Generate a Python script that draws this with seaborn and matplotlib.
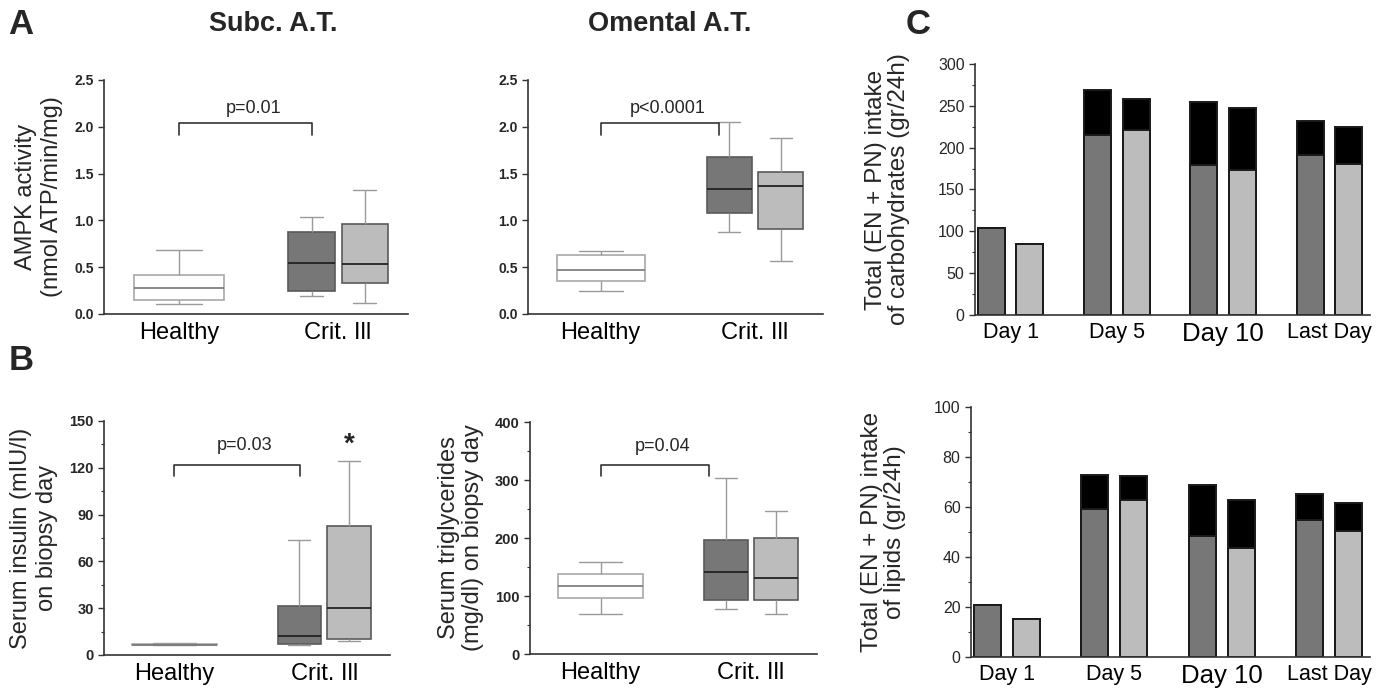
import numpy as np
import pandas as pd
import matplotlib
matplotlib.use("Agg")
import matplotlib.pyplot as plt
import seaborn as sns
from matplotlib.ticker import MultipleLocator

# --- DATA ---
GROUPS = ["Healthy", "Crit. Ill"]
SUBGROUPS = ["Group 1", "Group 2"]

# box data as [min, q1, median, q3, max]
ampk_sc_healthy = [0.107, 0.153, 0.274, 0.420, 0.686]
ampk_sc_crit1 = [0.188, 0.249, 0.548, 0.878, 1.035]
ampk_sc_crit2 = [0.117, 0.327, 0.537, 0.964, 1.326]

ampk_om_healthy = [0.245, 0.352, 0.473, 0.626, 0.669]
ampk_om_crit1 = [0.878, 1.078, 1.337, 1.675, 2.055]
ampk_om_crit2 = [0.562, 0.907, 1.366, 1.518, 1.878]

insulin_healthy = [6.2, 6.4, 6.6, 6.8, 7.5]
insulin_crit1 = [6.2, 7.0, 11.9, 31.1, 73.8]
insulin_crit2 = [9.2, 10.2, 29.9, 82.4, 124.2]

tg_healthy = [68.8, 96.3, 117.5, 137.5, 159.3]
tg_crit1 = [77.9, 94.0, 142.1, 196.0, 303.7]
tg_crit2 = [68.8, 92.3, 131.8, 200.6, 246.4]

DAYS = ["Day 1", "Day 5", "Day 10", "Last Day"]
carb_base_1 = [104.5, 215.0, 179.0, 191.5]
carb_total_1 = [104.5, 268.5, 255.0, 232.0]
carb_base_2 = [85.4, 221.0, 173.5, 180.7]
carb_total_2 = [85.4, 258.0, 247.0, 224.6]

lipid_base_1 = [20.9, 59.3, 48.4, 54.7]
lipid_total_1 = [20.9, 73.0, 68.7, 65.2]
lipid_base_2 = [15.2, 62.7, 43.7, 50.5]
lipid_total_2 = [15.2, 72.5, 62.8, 61.7]

# --- STYLE ---
DARK = "#777777"
LIGHT = "#bcbcbc"
AX_COLOR = "#333333"
LABEL_SIZE = 17

sns.set_style("ticks")
plt.rcParams["font.family"] = ["Liberation Sans", "DejaVu Sans"]


def style_axis(ax, bold_ticks=True, ysize=10):
    sns.despine(ax=ax)
    for s in ["left", "bottom"]:
        ax.spines[s].set_color(AX_COLOR)
        ax.spines[s].set_linewidth(1.2)
    ax.tick_params(axis="x", length=0, pad=6, labelsize=LABEL_SIZE, colors="black")
    ax.tick_params(axis="y", which="major", length=4, width=1, labelsize=ysize, color=AX_COLOR)
    ax.tick_params(axis="y", which="minor", length=2.5, width=0.8, color=AX_COLOR)
    if bold_ticks:
        for t in ax.get_yticklabels():
            t.set_fontweight("bold")
    ax.set_xlabel("")


def box_panel(ax, healthy, crit1, crit2, ymax, major, minor=None, ylabel="", ysize=10):
    df_h = pd.DataFrame({"group": "Healthy", "value": healthy})
    df_c = pd.concat([
        pd.DataFrame({"group": "Crit. Ill", "sub": SUBGROUPS[0], "value": crit1}),
        pd.DataFrame({"group": "Crit. Ill", "sub": SUBGROUPS[1], "value": crit2}),
    ])
    line_kw = dict(whiskerprops=dict(color="#9a9a9a", linewidth=1),
                   capprops=dict(color="#9a9a9a", linewidth=1))
    sns.boxplot(data=df_h, x="group", y="value", order=GROUPS, width=0.57,
                color="white", linecolor="#a8a8a8", linewidth=1.2, whis=(0, 100),
                medianprops=dict(color="#777777", linewidth=1.2), ax=ax, **line_kw)
    sns.boxplot(data=df_c, x="group", y="value", hue="sub", order=GROUPS,
                hue_order=SUBGROUPS, palette=[DARK, LIGHT], saturation=1,
                width=0.667, gap=0.13, dodge=True, whis=(0, 100),
                linecolor="#5a5a5a", linewidth=1.2,
                medianprops=dict(color="#222222", linewidth=1.3),
                legend=False, ax=ax, **line_kw)
    ax.set_xlim(-0.47, 1.44)
    ax.set_ylim(0, ymax)
    ax.yaxis.set_major_locator(MultipleLocator(major))
    if minor:
        ax.yaxis.set_minor_locator(MultipleLocator(minor))
    ax.set_ylabel(ylabel, fontsize=LABEL_SIZE, labelpad=8, linespacing=1.25)
    style_axis(ax, ysize=ysize)


def bracket(ax, x0, x1, y_top, y_leg, label, ytext):
    ax.plot([x0, x0, x1, x1], [y_leg, y_top, y_top, y_leg], color="#333333", lw=1.2)
    ax.text((x0 + x1) / 2 + 0.05, ytext, label, ha="center", va="center", fontsize=13)


def bar_panel(ax, base1, total1, base2, total2, ymax, major, minor, ylabel):
    df_tot = pd.concat([
        pd.DataFrame({"day": DAYS, "sub": SUBGROUPS[0], "value": total1}),
        pd.DataFrame({"day": DAYS, "sub": SUBGROUPS[1], "value": total2}),
    ])
    df_base = pd.concat([
        pd.DataFrame({"day": DAYS, "sub": SUBGROUPS[0], "value": base1}),
        pd.DataFrame({"day": DAYS, "sub": SUBGROUPS[1], "value": base2}),
    ])
    bar_kw = dict(x="day", y="value", hue="sub", order=DAYS, hue_order=SUBGROUPS,
                  width=0.724, gap=0.3, saturation=1, errorbar=None,
                  edgecolor="#1a1a1a", linewidth=1.4, legend=False, ax=ax)
    sns.barplot(data=df_tot, palette=["black", "black"], **bar_kw)
    sns.barplot(data=df_base, palette=[DARK, LIGHT], **bar_kw)
    ax.set_xlim(-0.334, 3.38)
    ax.set_ylim(0, ymax)
    ax.yaxis.set_major_locator(MultipleLocator(major))
    ax.yaxis.set_minor_locator(MultipleLocator(minor))
    ax.set_ylabel(ylabel, fontsize=LABEL_SIZE + 0.5, labelpad=20, linespacing=1.05)
    style_axis(ax, bold_ticks=False, ysize=11.5)
    ax.tick_params(axis="x", labelsize=15.5, pad=5)
    ax.get_xticklabels()[2].set_fontsize(18.5)


fig = plt.figure(figsize=(13.82, 6.94), dpi=100)

ax_a1 = fig.add_axes([0.0753, 0.5476, 0.220, 0.3372])
ax_a2 = fig.add_axes([0.3820, 0.5476, 0.2135, 0.3372])
ax_c1 = fig.add_axes([0.7055, 0.5461, 0.2858, 0.3617])
ax_b1 = fig.add_axes([0.0753, 0.0562, 0.207, 0.3372])
ax_b2 = fig.add_axes([0.3835, 0.0576, 0.2077, 0.3343])
ax_c2 = fig.add_axes([0.7026, 0.0533, 0.2887, 0.3602])

# Panel A
box_panel(ax_a1, ampk_sc_healthy, ampk_sc_crit1, ampk_sc_crit2, 2.5, 0.5,
          ylabel="AMPK activity\n(nmol ATP/min/mg)")
bracket(ax_a1, 0.0, 0.835, 2.04, 1.91, "p=0.01", 2.2)

box_panel(ax_a2, ampk_om_healthy, ampk_om_crit1, ampk_om_crit2, 2.5, 0.5)
bracket(ax_a2, 0.0, 0.765, 2.04, 1.91, "p<0.0001", 2.2)

# Panel B
box_panel(ax_b1, insulin_healthy, insulin_crit1, insulin_crit2, 150, 30, 15,
          ylabel="Serum insulin (mIU/l)\non biopsy day", ysize=10.5)
bracket(ax_b1, 0.0, 0.835, 121.6, 114.8, "p=0.03", 134.4)
ax_b1.text(1.167, 134.6, "*", ha="center", va="center", fontsize=20, fontweight="bold")

box_panel(ax_b2, tg_healthy, tg_crit1, tg_crit2, 400, 100, 50,
          ylabel="Serum triglycerides\n(mg/dl) on biopsy day", ysize=10.5)
ax_b2.yaxis.label.set_linespacing(1.1)
bracket(ax_b2, 0.0, 0.72, 325.5, 306.6, "p=0.04", 358)

# Panel C
bar_panel(ax_c1, carb_base_1, carb_total_1, carb_base_2, carb_total_2, 300, 50, 25,
          "Total (EN + PN) intake\nof carbohydrates (gr/24h)")
bar_panel(ax_c2, lipid_base_1, lipid_total_1, lipid_base_2, lipid_total_2, 100, 20, 10,
          "Total (EN + PN) intake\nof lipids (gr/24h)")

# titles and panel letters
fig.text(273 / 1382, 1 - 24 / 694, "Subc. A.T.", ha="center", va="center",
         fontsize=19.5, fontweight="bold")
fig.text(670 / 1382, 1 - 24 / 694, "Omental A.T.", ha="center", va="center",
         fontsize=19.5, fontweight="bold")
fig.text(21 / 1382, 1 - 24 / 694, "A", ha="center", va="center", fontsize=25, fontweight="bold")
fig.text(21 / 1382, 1 - 360 / 694, "B", ha="center", va="center", fontsize=25, fontweight="bold")
fig.text(918 / 1382, 1 - 24 / 694, "C", ha="center", va="center", fontsize=25, fontweight="bold")

fig.savefig("out.png", dpi=100)
